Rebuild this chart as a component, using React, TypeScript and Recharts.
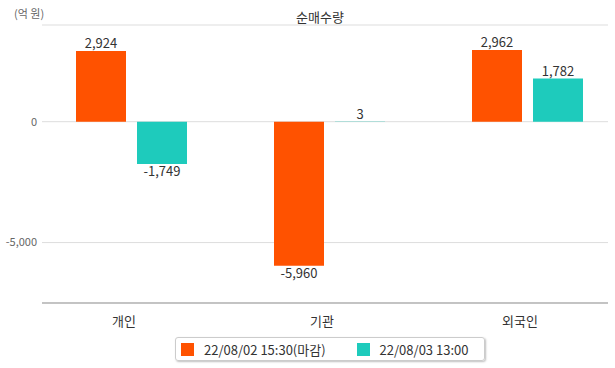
import { BarChart, Bar, XAxis, YAxis, CartesianGrid, LabelList } from 'recharts'

const categories = ['개인', '기관', '외국인']
const closeValues = [2924, -5960, 2962]
const nowValues = [-1749, 3, 1782]
const yTicks = [-5000, 0]
const seriesNames = ['22/08/02 15:30(마감)', '22/08/03 13:00']
const colors = ['#ff5200', '#1ecbbc']

const data = categories.map((name, i) => ({ name, close: closeValues[i], now: nowValues[i] }))

const FONT = '"Noto Sans CJK KR", "Noto Sans", sans-serif'

function ValueLabel(props: any) {
  const { x, y, width, height, value } = props
  const top = Math.min(y, y + height)
  const bottom = Math.max(y, y + height)
  const cx = x + width / 2
  const ty = value >= 0 ? top - 3 : bottom + 12
  return (
    <text x={cx} y={ty} textAnchor="middle" fontSize={13} fill="#333" fontFamily={FONT}>
      {Number(value).toLocaleString('en-US')}
    </text>
  )
}

export default function App() {
  return (
    <div style={{ position: 'fixed', left: 0, top: 0, width: 615, height: 368, background: '#fff', fontFamily: FONT }}>
      <div style={{ position: 'absolute', left: 14, top: 5, fontSize: 11, color: '#666' }}>(억 원)</div>
      <div style={{ position: 'absolute', left: 0, width: 640, top: 7, textAlign: 'center', fontSize: 13, color: '#333' }}>
        순매수량
      </div>
      <BarChart
        width={615}
        height={335}
        data={data}
        margin={{ top: 25, right: 7, left: 0, bottom: 0 }}
        barCategoryGap={43}
        barGap={11}
      >
        <CartesianGrid vertical={false} stroke="#dddddd" />
        <XAxis
          dataKey="name"
          tickLine={false}
          axisLine={{ stroke: '#999' }}
          height={32}
          padding={{ left: -10, right: -18 }}
          tick={{ fontSize: 13, fill: '#333', fontFamily: FONT, dx: -7 }}
          tickMargin={8}
        />
        <YAxis
          type="number"
          domain={[-7500, 4000]}
          ticks={yTicks}
          width={42}
          axisLine={false}
          tickLine={false}
          tick={{ fontSize: 11, fill: '#666', fontFamily: FONT, dx: 3 }}
          tickFormatter={(v: number) => v.toLocaleString('en-US')}
        />
        <Bar dataKey="close" fill={colors[0]} barSize={50} isAnimationActive={false}>
          <LabelList dataKey="close" content={ValueLabel} />
        </Bar>
        <Bar dataKey="now" fill={colors[1]} barSize={50} isAnimationActive={false}>
          <LabelList dataKey="now" content={ValueLabel} />
        </Bar>
      </BarChart>
      <div
        style={{
          position: 'absolute',
          left: 175,
          top: 337,
          width: 310,
          height: 24,
          boxSizing: 'border-box',
          border: '1px solid #ccc',
          borderRadius: 3,
          boxShadow: '1px 1px 2px rgba(0,0,0,0.25)',
          display: 'flex',
          alignItems: 'center',
          fontSize: 13,
          color: '#333',
        }}
      >
        {seriesNames.map((s, i) => (
          <div key={s} style={{ display: 'flex', alignItems: 'center', marginLeft: i === 0 ? 5 : 31 }}>
            <span style={{ width: 13, height: 13, background: colors[i], display: 'inline-block', marginRight: 10 }} />
            <span>{s}</span>
          </div>
        ))}
      </div>
    </div>
  )
}
